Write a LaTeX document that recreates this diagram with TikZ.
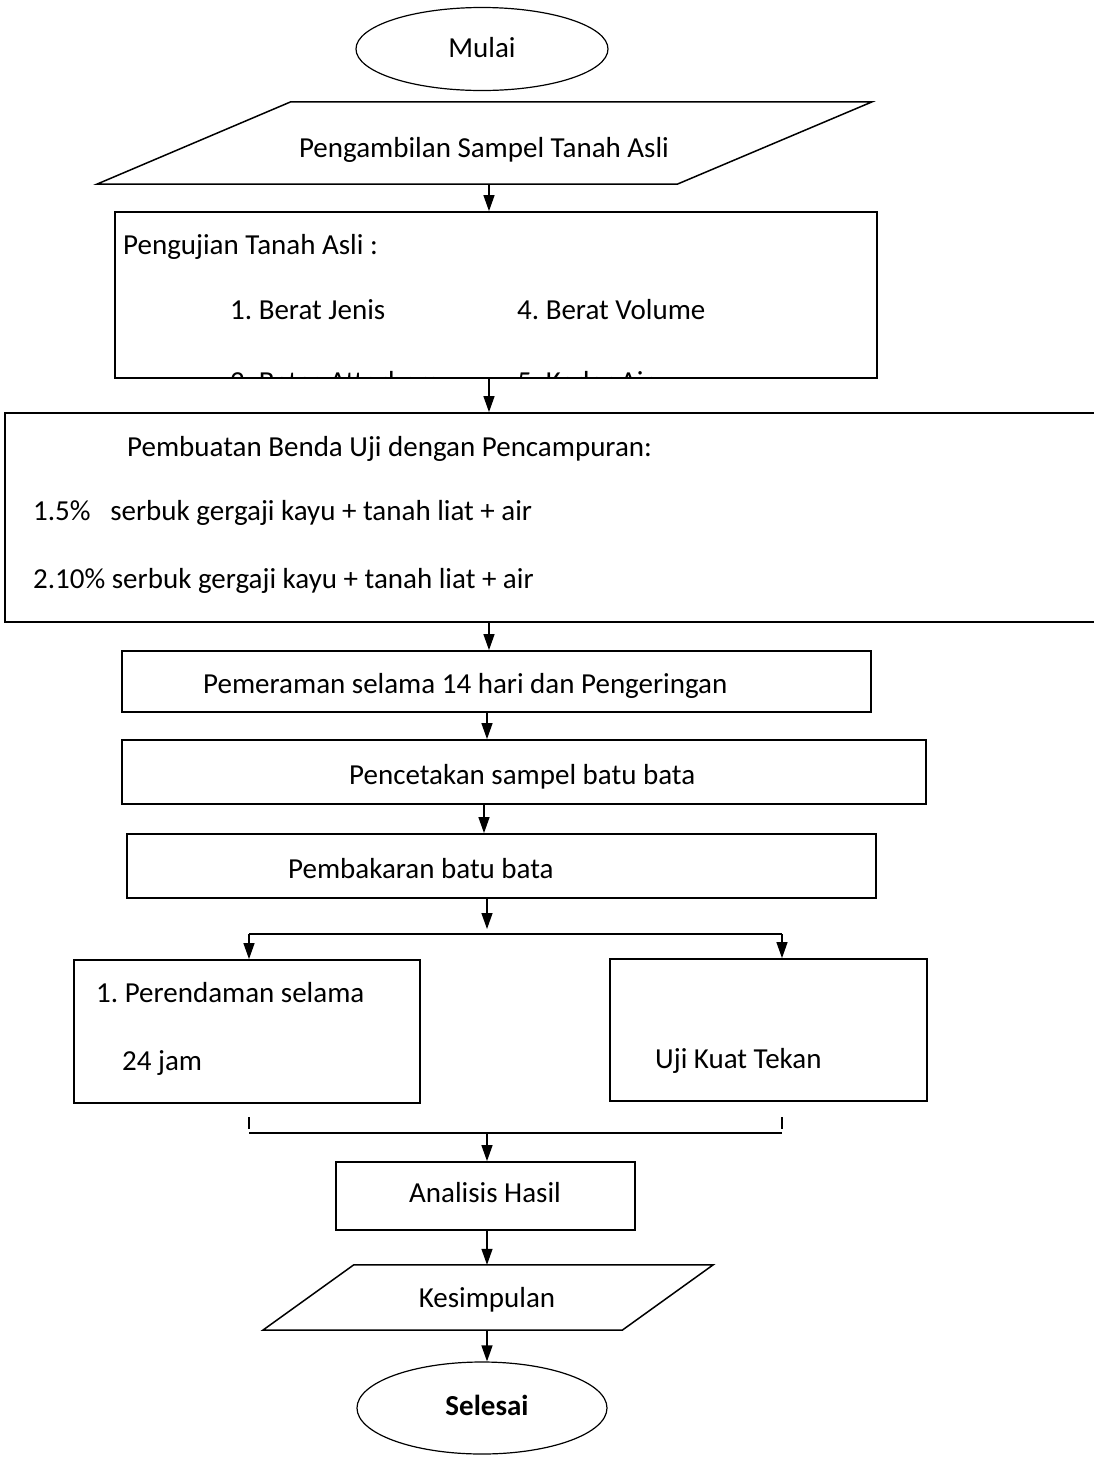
\documentclass[tikz,border=0pt]{standalone}
\usepackage{fontspec}
\setmainfont{Carlito}
\usetikzlibrary{shapes.geometric,arrows.meta,calc}
\frenchspacing
\begin{document}
\begin{tikzpicture}[x=1pt,y=-1pt,
  font=\fontsize{29}{35}\selectfont\frenchspacing,
  box/.style={draw, line width=1.8pt, inner sep=0, rectangle},
  oval/.style={draw, ellipse, line width=1.2pt, inner sep=0},
  band/.style={inner sep=0, rectangle},
  txt/.style={inner sep=0, anchor=base west},
  ctxt/.style={inner sep=0, anchor=base},
  arr/.style={line width=1.3pt, -{Triangle[length=16pt,width=11pt]}},
  ln/.style={line width=1.3pt},
  para/.style={line width=1.5pt, line join=miter}]
\clip (0,0) rectangle (1094,1457);
\fill[white] (0,0) rectangle (1094,1457);

% columns for connectors
\coordinate (c1) at (489,0);
\coordinate (c2) at (487,0);
\coordinate (c3) at (484,0);

% Mulai
\node[oval, minimum width=252pt, minimum height=83pt] (mulai) at (482,49) {};
\node[ctxt] (tmulai) at (482,57) {Mulai};

% Pengambilan (parallelogram)
\node[band, minimum width=580pt, minimum height=82pt] (p1) at (484,143) {};
\draw[para] ([xshift=97pt]p1.north west) -- ([xshift=98pt]p1.north east)
  -- ([xshift=-97pt]p1.south east) -- ([xshift=-97pt]p1.south west) -- cycle;
\node[ctxt] (tp1) at (484,157) {Pengambilan Sampel Tanah Asli};

% Pengujian
\node[box, minimum width=762pt, minimum height=166pt] (b2) at (496,295) {};
\node[txt] (tb2a) at (123,254) {Pengujian Tanah Asli :};
\node[txt] (tb2b) at (230,319) {1. Berat Jenis};
\node[txt] (tb2c) at (517,319) {4. Berat Volume};
\begin{scope}
  \clip (116,213) rectangle (876,377);
  \node[txt] (tb2d) at (230,391) {2. Batas Atterberg};
  \node[txt] (tb2e) at (517,391) {5. Kadar Air};
\end{scope}

% Pembuatan
\node[box, minimum width=1115pt, minimum height=209pt] (b3) at (562.5,517.5) {};
\node[txt] (tb3a) at (127,456) {Pembuatan Benda Uji dengan Pencampuran:};
\node[txt] (tb3b) at (33,520) {1.5\%\ \ \ serbuk gergaji kayu + tanah liat + air};
\node[txt] (tb3c) at (33,588) {2.10\% serbuk gergaji kayu + tanah liat + air};

% Pemeraman
\node[box, minimum width=749pt, minimum height=61pt] (b4) at (496.5,681.5) {};
\node[txt] (tb4) at (203,693) {Pemeraman selama 14 hari dan Pengeringan};

% Pencetakan
\node[box, minimum width=804pt, minimum height=64pt] (b5) at (524,772) {};
\node[txt] (tb5) at (349,784) {Pencetakan sampel batu bata};

% Pembakaran
\node[box, minimum width=749pt, minimum height=64pt] (b6) at (501.5,866) {};
\node[txt] (tb6) at (288,878) {Pembakaran batu bata};

% Perendaman
\node[box, minimum width=346pt, minimum height=143pt] (b7) at (247,1031.5) {};
\node[txt] (tb7a) at (96,1002) {1. Perendaman selama};
\node[txt] (tb7b) at (122,1070) {24 jam};

% Uji Kuat Tekan
\node[box, minimum width=317pt, minimum height=142pt] (b8) at (768.5,1030) {};
\node[txt] (tb8) at (655,1068) {Uji Kuat Tekan};

% Analisis
\node[box, minimum width=299pt, minimum height=68pt] (b9) at (485.5,1196) {};
\node[ctxt] (tb9) at (485,1202) {Analisis Hasil};

% Kesimpulan (parallelogram)
\node[band, minimum width=359pt, minimum height=65pt] (p2) at (488,1297.5) {};
\draw[para] ([xshift=45.5pt]p2.north west) -- ([xshift=45.5pt]p2.north east)
  -- ([xshift=-45.5pt]p2.south east) -- ([xshift=-45.5pt]p2.south west) -- cycle;
\node[ctxt] (tp2) at (487,1307) {Kesimpulan};

% Selesai
\node[oval, minimum width=250pt, minimum height=92pt] (selesai) at (482,1408) {};
\node[ctxt] (tsel) at (487,1415) {\bfseries Selesai};

% connectors
\draw[arr] (p1.south -| c1) -- (b2.north -| c1);
\draw[arr] (b2.south -| c1) -- (b3.north -| c1);
\draw[arr] (b3.south -| c1) -- (b4.north -| c1);
\draw[arr] (b4.south -| c2) -- (b5.north -| c2);
\draw[arr] (b5.south -| c3) -- (b6.north -| c3);

\coordinate (fk) at (487,929);
\coordinate (fl) at (249,934);
\coordinate (fr) at (782,934);
\draw[arr] (b6.south -| c2) -- (fk);
\draw[ln] (fl) -- (fr);
\draw[arr] (fl) -- (fl |- b7.north);
\draw[arr] (fr) -- (fr |- b8.north);

\coordinate (tl1) at (249,1117);
\coordinate (tl2) at (249,1129);
\coordinate (tr1) at (782,1117);
\coordinate (tr2) at (782,1129);
\coordinate (jl) at (249,1133);
\coordinate (jr) at (782,1133);
\coordinate (jm) at (487,1133);
\draw[ln] (tl1) -- (tl2);
\draw[ln] (tr1) -- (tr2);
\draw[ln] (jl) -- (jr);
\draw[arr] (jm) -- (b9.north -| jm);
\draw[arr] (b9.south -| c2) -- (p2.north -| c2);
\draw[arr] (p2.south -| c2) -- (selesai.north -| c2);
\end{tikzpicture}
\end{document}
